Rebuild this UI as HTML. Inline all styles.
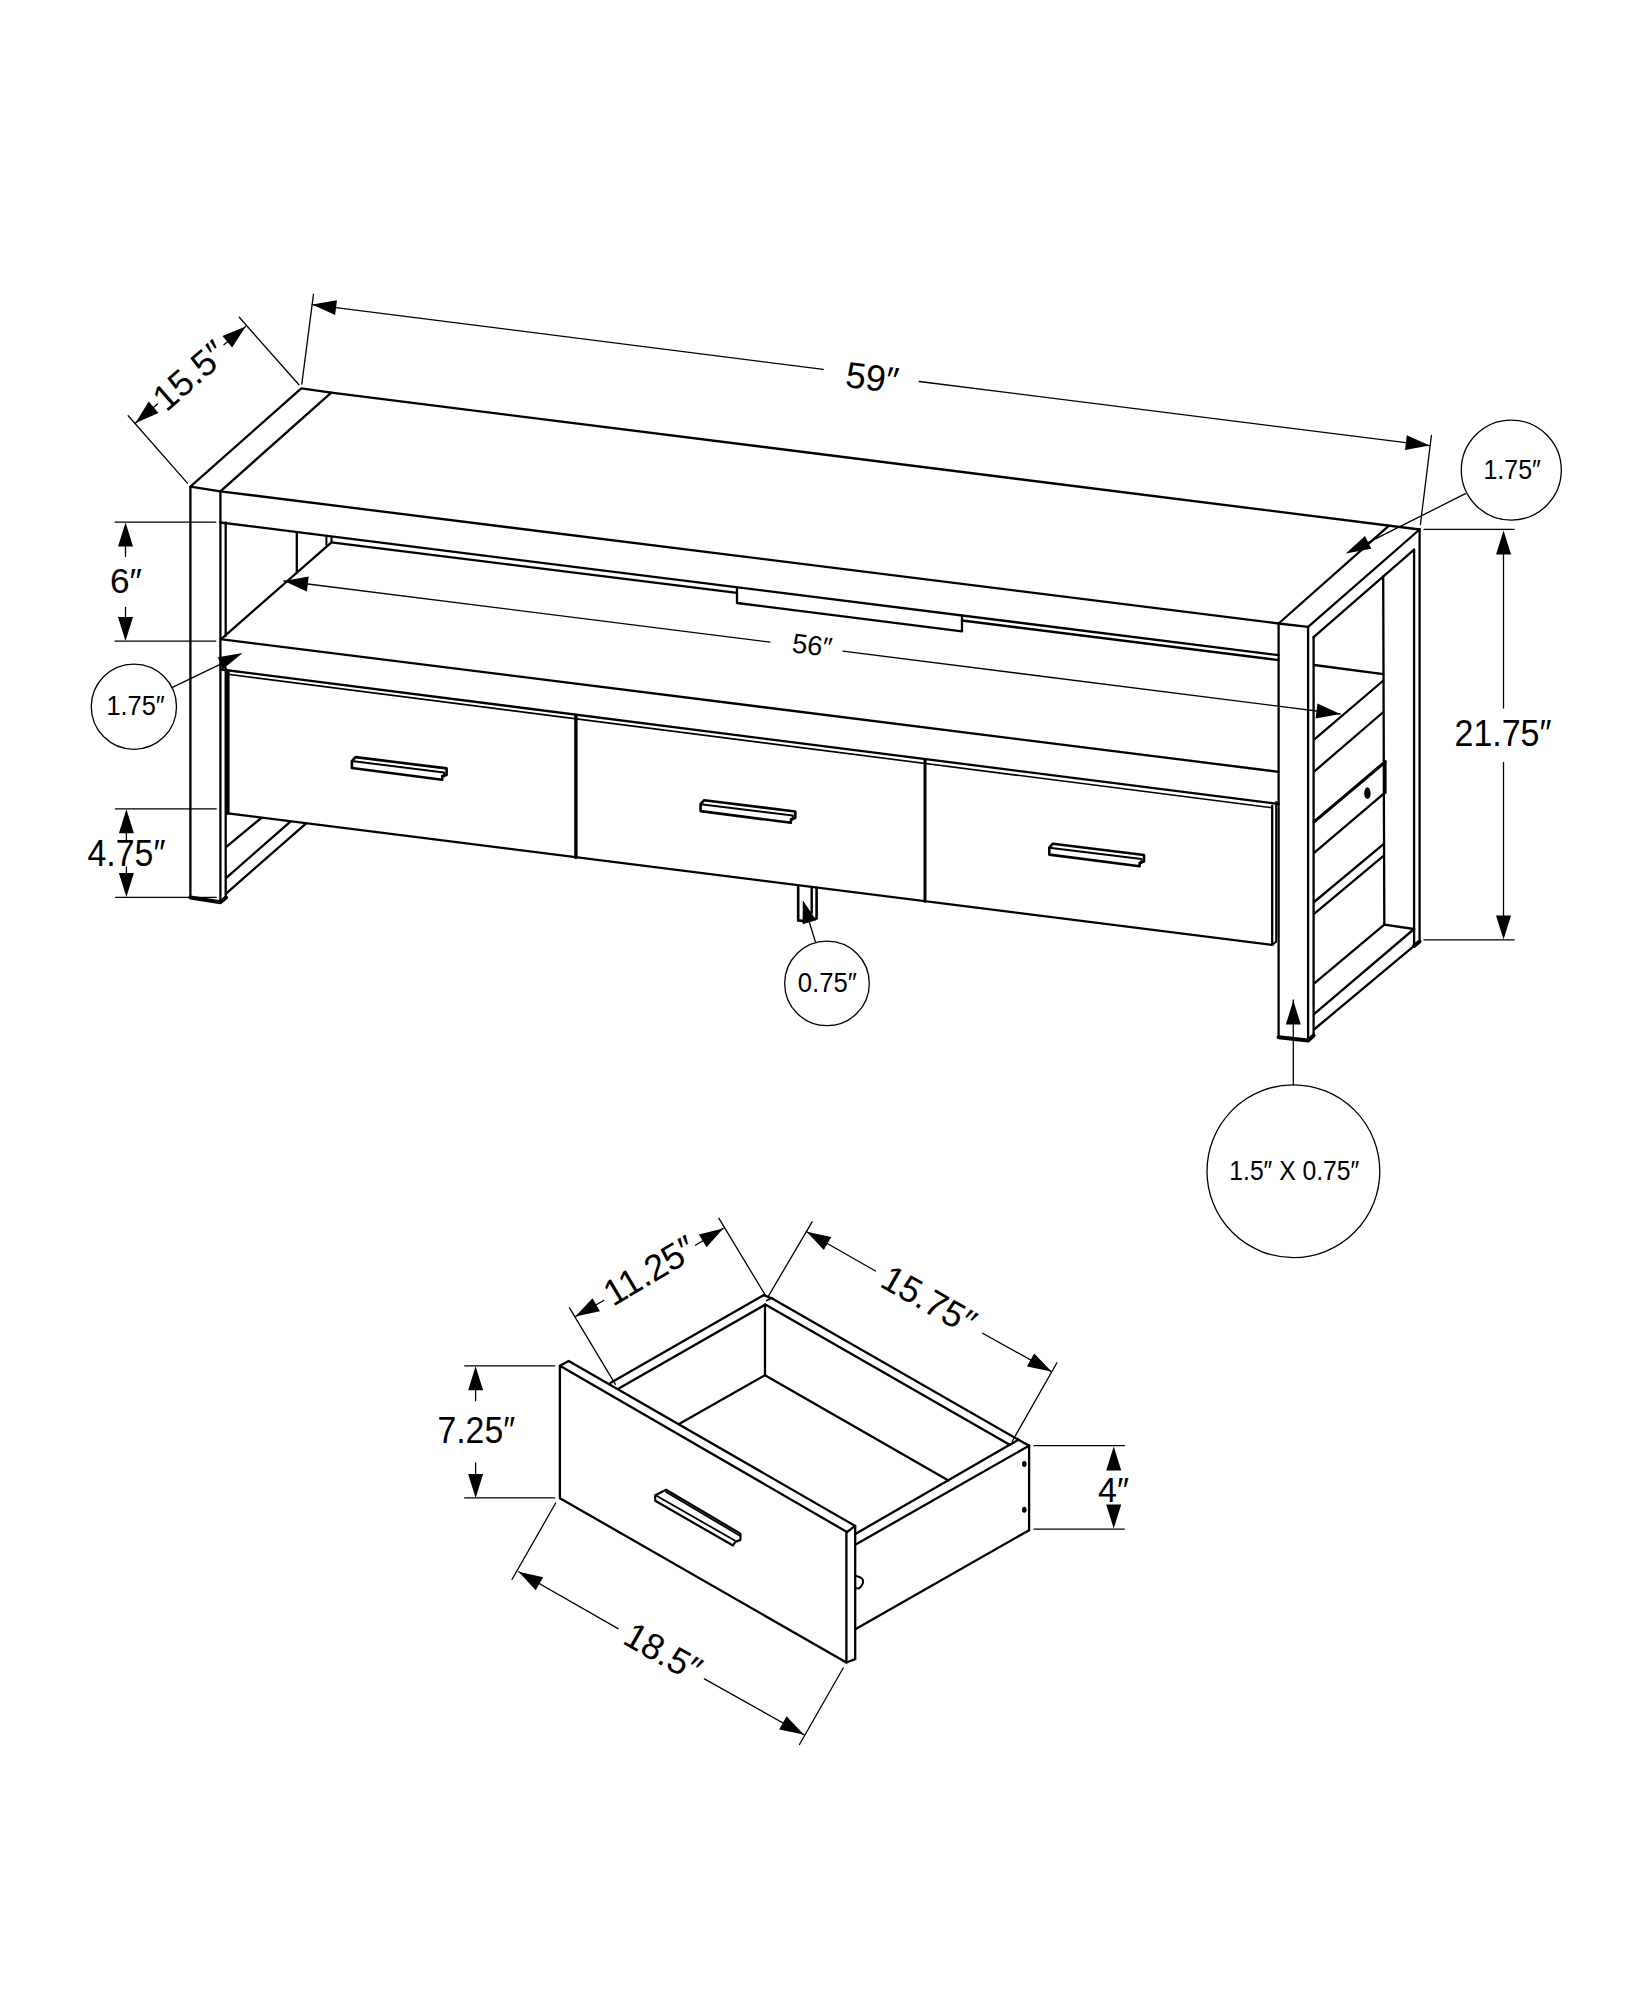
<!DOCTYPE html>
<html><head><meta charset="utf-8"><style>
html,body{margin:0;padding:0;background:#fff;}
svg{display:block;}
text{font-family:"Liberation Sans",sans-serif;fill:#000;stroke:none;}
</style></head><body>
<svg width="1647" height="2000" viewBox="0 0 1647 2000" stroke="#000" stroke-linecap="round" stroke-linejoin="round" fill="none">
<rect x="0" y="0" width="1647" height="2000" fill="#fff" stroke="none"/>
<path d="M190.4,486.7 L301.3,388.4 L331.3,392.6 L220.4,491.3 L190.4,486.7" stroke-width="2.3" fill="none"/>
<line x1="331.3" y1="392.6" x2="1419.6" y2="529.5" stroke-width="2.3"/>
<line x1="220.4" y1="491.3" x2="1278.6" y2="623.5" stroke-width="2.3"/>
<line x1="1389.0" y1="525.7" x2="1278.6" y2="623.5" stroke-width="2.3"/>
<line x1="1419.6" y1="529.5" x2="1308.1" y2="626.8" stroke-width="2.3"/>
<line x1="1278.6" y1="623.5" x2="1308.1" y2="626.8" stroke-width="2.3"/>
<line x1="220.4" y1="522.5" x2="1278.6" y2="655.2" stroke-width="2.3"/>
<line x1="331.4" y1="542.3" x2="737.0" y2="592.8" stroke-width="2.3"/>
<path d="M737.0,587.3 L737.0,603.0 L962.0,631.4 L962.0,615.5" stroke-width="2.3" fill="none"/>
<line x1="962.0" y1="620.5" x2="1278.6" y2="660.1" stroke-width="2.3"/>
<line x1="326.4" y1="536.5" x2="326.4" y2="544.8" stroke-width="2.0"/>
<line x1="331.5" y1="537.2" x2="331.5" y2="541.6" stroke-width="2.0"/>
<line x1="296.8" y1="532.1" x2="296.8" y2="572.7" stroke-width="2.3"/>
<line x1="331.4" y1="542.3" x2="222.0" y2="638.4" stroke-width="2.3"/>
<line x1="222.0" y1="639.3" x2="1278.6" y2="771.8" stroke-width="2.3"/>
<line x1="221.2" y1="669.5" x2="1278.6" y2="804.0" stroke-width="2.3"/>
<line x1="227.9" y1="674.3" x2="1272.0" y2="807.8" stroke-width="1.6"/>
<line x1="227.9" y1="813.3" x2="1272.2" y2="944.9" stroke-width="2.3"/>
<line x1="575.9" y1="715.2" x2="575.9" y2="857.6" stroke-width="3.4"/>
<line x1="925.0" y1="760.0" x2="925.0" y2="901.2" stroke-width="3.0"/>
<line x1="1272.2" y1="806.0" x2="1272.2" y2="944.9" stroke-width="2.3"/>
<line x1="1276.2" y1="802.0" x2="1276.2" y2="941.5" stroke-width="2.0"/>
<line x1="1272.2" y1="944.9" x2="1276.2" y2="941.5" stroke-width="2.0"/>
<line x1="190.4" y1="486.7" x2="190.4" y2="897.6" stroke-width="2.3"/>
<line x1="220.4" y1="491.3" x2="220.4" y2="902.2" stroke-width="2.3"/>
<path d="M190.4,897.6 L220.4,902.2 L226.0,897.5" stroke-width="4" fill="none"/>
<line x1="225.7" y1="522.5" x2="225.7" y2="636.0" stroke-width="2.3"/>
<line x1="225.7" y1="668.0" x2="225.7" y2="897.5" stroke-width="2.3"/>
<line x1="227.9" y1="672.0" x2="227.9" y2="813.3" stroke-width="3.4"/>
<line x1="226.6" y1="846.6" x2="261.2" y2="818.0" stroke-width="2.3"/>
<line x1="226.6" y1="877.6" x2="290.4" y2="821.6" stroke-width="2.3"/>
<line x1="226.6" y1="893.1" x2="305.9" y2="823.6" stroke-width="2.3"/>
<path d="M351.9,761.1 L355.5,757.1 L446.6,768.4 L446.6,774.9 L442.3,776.1 L442.2,779.7 L351.9,768.0 Z" stroke-width="2.6" fill="none"/>
<path d="M351.9,761.1 L444.1,772.5 L444.1,776.4" stroke-width="2.0" fill="none"/>
<path d="M700.6,804.2 L704.2,800.2 L795.3,811.5 L795.3,818.0 L791.0,819.2 L790.9,822.8 L700.6,811.1 Z" stroke-width="2.6" fill="none"/>
<path d="M700.6,804.2 L792.8,815.6 L792.8,819.5" stroke-width="2.0" fill="none"/>
<path d="M1049.3,847.7 L1052.9,843.7 L1144.0,855.0 L1144.0,861.5 L1139.7,862.7 L1139.6,866.3 L1049.3,854.6 Z" stroke-width="2.6" fill="none"/>
<path d="M1049.3,847.7 L1141.5,859.1 L1141.5,863.0" stroke-width="2.0" fill="none"/>
<path d="M798.2,885.6 L798.2,920.4 L805.5,921.2 L816.6,918.4 L816.6,888.0" stroke-width="2.6" fill="none"/>
<line x1="811.7" y1="887.0" x2="811.7" y2="913.0" stroke-width="2.4"/>
<line x1="1278.6" y1="623.5" x2="1278.6" y2="1037.2" stroke-width="2.3"/>
<line x1="1308.1" y1="626.8" x2="1308.1" y2="1040.4" stroke-width="2.3"/>
<line x1="1313.6" y1="637.2" x2="1313.6" y2="1035.5" stroke-width="2.3"/>
<path d="M1278.6,1037.2 L1308.1,1040.4 L1313.6,1035.5" stroke-width="4" fill="none"/>
<line x1="1313.6" y1="637.2" x2="1414.1" y2="549.7" stroke-width="2.3"/>
<line x1="1414.1" y1="549.7" x2="1414.1" y2="945.9" stroke-width="2.3"/>
<line x1="1419.6" y1="529.5" x2="1419.6" y2="941.5" stroke-width="2.3"/>
<path d="M1414.1,945.9 L1419.6,941.5" stroke-width="4" fill="none"/>
<line x1="1383.2" y1="576.5" x2="1384.3" y2="924.6" stroke-width="2.3"/>
<line x1="1314.6" y1="983.1" x2="1384.3" y2="924.6" stroke-width="2.3"/>
<line x1="1384.3" y1="924.6" x2="1414.1" y2="929.0" stroke-width="2.3"/>
<line x1="1314.6" y1="1013.7" x2="1414.1" y2="929.0" stroke-width="2.3"/>
<line x1="1314.6" y1="1029.0" x2="1414.1" y2="945.9" stroke-width="2.3"/>
<line x1="1314.1" y1="665.0" x2="1383.4" y2="674.2" stroke-width="2.3"/>
<line x1="1314.1" y1="739.7" x2="1383.4" y2="680.5" stroke-width="2.3"/>
<line x1="1314.1" y1="771.6" x2="1383.4" y2="712.0" stroke-width="2.3"/>
<line x1="1314.1" y1="821.9" x2="1385.0" y2="762.0" stroke-width="3.2"/>
<line x1="1385.5" y1="761.0" x2="1385.5" y2="793.0" stroke-width="2.2"/>
<line x1="1314.1" y1="852.9" x2="1383.8" y2="793.7" stroke-width="2.3"/>
<line x1="1314.1" y1="902.0" x2="1383.8" y2="843.8" stroke-width="2.3"/>
<line x1="1314.1" y1="913.9" x2="1383.8" y2="855.6" stroke-width="2.3"/>
<ellipse cx="1367.4" cy="793.2" rx="3.2" ry="5.9" fill="#000" stroke="none"/>
<line x1="313.5" y1="294.2" x2="301.8" y2="384.2" stroke-width="1.3"/>
<line x1="1431.4" y1="435.4" x2="1420.4" y2="524.5" stroke-width="1.3"/>
<line x1="312.2" y1="304.6" x2="823.2" y2="369.4" stroke-width="1.3"/>
<line x1="919.2" y1="381.5" x2="1429.7" y2="445.6" stroke-width="1.3"/>
<path d="M312.2,304.6 L337.0,300.2 L335.1,315.1 Z" fill="#000" stroke="none"/>
<path d="M1429.7,445.6 L1405.0,450.1 L1406.8,435.2 Z" fill="#000" stroke="none"/>
<g transform="translate(872.3,377.5) rotate(7.20)"><text x="0" y="12.6" font-size="36.5" text-anchor="middle" textLength="53" lengthAdjust="spacingAndGlyphs">59&#8243;</text></g>
<line x1="128.2" y1="415.7" x2="187.4" y2="483.1" stroke-width="1.3"/>
<line x1="239.3" y1="317.3" x2="298.9" y2="384.7" stroke-width="1.3"/>
<line x1="135.5" y1="423.0" x2="157.4" y2="403.9" stroke-width="1.3"/>
<line x1="223.9" y1="344.7" x2="245.7" y2="326.4" stroke-width="1.3"/>
<path d="M135.5,423.0 L148.7,401.6 L158.5,412.9 Z" fill="#000" stroke="none"/>
<path d="M245.7,326.4 L232.1,347.6 L222.5,336.1 Z" fill="#000" stroke="none"/>
<g transform="translate(189.5,375.5) rotate(-41.20)"><text x="0" y="12.6" font-size="36.5" text-anchor="middle" textLength="84" lengthAdjust="spacingAndGlyphs">15.5&#8243;</text></g>
<line x1="115.0" y1="522.2" x2="215.7" y2="522.2" stroke-width="1.3"/>
<line x1="115.0" y1="641.2" x2="215.7" y2="641.2" stroke-width="1.3"/>
<line x1="125.5" y1="546.0" x2="125.5" y2="556.5" stroke-width="1.3"/>
<line x1="125.5" y1="607.5" x2="125.5" y2="618.0" stroke-width="1.3"/>
<path d="M125.5,522.5 L133.0,546.5 L118.0,546.5 Z" fill="#000" stroke="none"/>
<path d="M125.5,641.0 L118.0,617.0 L133.0,617.0 Z" fill="#000" stroke="none"/>
<g transform="translate(126.0,580.6) rotate(0.00)"><text x="0" y="12.2" font-size="35.5" text-anchor="middle" textLength="32" lengthAdjust="spacingAndGlyphs">6&#8243;</text></g>
<line x1="115.5" y1="808.9" x2="216.2" y2="808.9" stroke-width="1.3"/>
<line x1="115.5" y1="897.3" x2="216.2" y2="897.3" stroke-width="1.3"/>
<line x1="126.4" y1="832.0" x2="126.4" y2="840.0" stroke-width="1.3"/>
<line x1="126.4" y1="867.0" x2="126.4" y2="874.0" stroke-width="1.3"/>
<path d="M126.4,809.2 L133.9,833.2 L118.9,833.2 Z" fill="#000" stroke="none"/>
<path d="M126.4,897.0 L118.9,873.0 L133.9,873.0 Z" fill="#000" stroke="none"/>
<g transform="translate(126.4,853.5) rotate(0.00)"><text x="0" y="12.7" font-size="37" text-anchor="middle" textLength="78" lengthAdjust="spacingAndGlyphs">4.75&#8243;</text></g>
<line x1="1424.0" y1="529.4" x2="1513.9" y2="529.4" stroke-width="1.3"/>
<line x1="1424.0" y1="939.9" x2="1514.0" y2="939.9" stroke-width="1.3"/>
<line x1="1503.5" y1="550.0" x2="1503.5" y2="707.9" stroke-width="1.3"/>
<line x1="1503.5" y1="762.5" x2="1503.5" y2="918.0" stroke-width="1.3"/>
<path d="M1503.5,530.5 L1511.0,554.5 L1496.0,554.5 Z" fill="#000" stroke="none"/>
<path d="M1503.5,939.4 L1496.0,915.4 L1511.0,915.4 Z" fill="#000" stroke="none"/>
<g transform="translate(1503.0,733.7) rotate(0.00)"><text x="0" y="12.6" font-size="36.5" text-anchor="middle" textLength="97" lengthAdjust="spacingAndGlyphs">21.75&#8243;</text></g>
<line x1="284.0" y1="581.0" x2="770.0" y2="642.2" stroke-width="1.3"/>
<line x1="843.1" y1="651.1" x2="1340.3" y2="714.0" stroke-width="1.3"/>
<path d="M284.0,581.0 L308.7,576.5 L306.9,591.4 Z" fill="#000" stroke="none"/>
<path d="M1340.3,714.0 L1315.6,718.5 L1317.4,703.6 Z" fill="#000" stroke="none"/>
<g transform="translate(812.3,645.3) rotate(7.20)"><text x="0" y="9.5" font-size="27.5" text-anchor="middle" textLength="40" lengthAdjust="spacingAndGlyphs">56&#8243;</text></g>
<circle cx="1511.3" cy="470.1" r="50" stroke-width="1.3" fill="none"/>
<line x1="1465.4" y1="493.7" x2="1366.0" y2="543.6" stroke-width="1.3"/>
<path d="M1345.8,553.6 L1371.3,548.7 L1365.0,536.1 Z" fill="#000" stroke="none"/>
<g transform="translate(1512.2,469.4) rotate(0.00)"><text x="0" y="9.4" font-size="27.2" text-anchor="middle" textLength="57.5" lengthAdjust="spacingAndGlyphs">1.75&#8243;</text></g>
<circle cx="133.9" cy="706.7" r="42.6" stroke-width="1.3" fill="none"/>
<line x1="172.4" y1="687.4" x2="220.1" y2="664.3" stroke-width="1.3"/>
<path d="M218.0,657.3 L242.6,653.1 L222.5,669.5 Z" fill="#000" stroke="none"/>
<g transform="translate(135.6,705.8) rotate(0.00)"><text x="0" y="9.4" font-size="27.2" text-anchor="middle" textLength="58.3" lengthAdjust="spacingAndGlyphs">1.75&#8243;</text></g>
<circle cx="827" cy="983.4" r="42.3" stroke-width="1.3" fill="none"/>
<line x1="815.3" y1="941.5" x2="809.4" y2="922.3" stroke-width="1.3"/>
<path d="M802.8,900.2 L802.6,924.3 L816.2,920.3 Z" fill="#000" stroke="none"/>
<g transform="translate(827.3,982.5) rotate(0.00)"><text x="0" y="9.4" font-size="27.2" text-anchor="middle" textLength="59" lengthAdjust="spacingAndGlyphs">0.75&#8243;</text></g>
<circle cx="1293.4" cy="1171.2" r="86.4" stroke-width="1.3" fill="none"/>
<line x1="1293.3" y1="1000.0" x2="1293.3" y2="1084.8" stroke-width="1.3"/>
<path d="M1293.3,1000.6 L1300.8,1024.6 L1285.8,1024.6 Z" fill="#000" stroke="none"/>
<g transform="translate(1294.3,1170.3) rotate(0.00)"><text x="0" y="9.6" font-size="28" text-anchor="middle" textLength="130" lengthAdjust="spacingAndGlyphs">1.5&#8243; X 0.75&#8243;</text></g>
<path d="M559.9,1365.8 L568.7,1361.0 L855.2,1525.9 L855.2,1659.2 L846.4,1662.5 L559.9,1498.2 L559.9,1365.8" stroke-width="2.3" fill="none"/>
<line x1="559.9" y1="1365.8" x2="847.0" y2="1532.0" stroke-width="2.3"/>
<line x1="847.0" y1="1532.0" x2="855.2" y2="1525.9" stroke-width="2.3"/>
<line x1="846.4" y1="1532.0" x2="846.4" y2="1662.5" stroke-width="2.3"/>
<line x1="610.3" y1="1382.9" x2="763.9" y2="1295.1" stroke-width="2.3"/>
<line x1="618.3" y1="1388.7" x2="765.3" y2="1304.6" stroke-width="2.3"/>
<line x1="763.9" y1="1295.1" x2="772.6" y2="1298.7" stroke-width="2.3"/>
<line x1="766.9" y1="1300.5" x2="772.2" y2="1297.8" stroke-width="1.8"/>
<line x1="772.6" y1="1298.7" x2="1018.5" y2="1439.8" stroke-width="2.3"/>
<line x1="765.3" y1="1304.6" x2="1009.7" y2="1444.7" stroke-width="2.3"/>
<line x1="1018.5" y1="1439.8" x2="1029.1" y2="1445.7" stroke-width="2.3"/>
<line x1="1009.7" y1="1445.0" x2="1018.3" y2="1439.8" stroke-width="2.3"/>
<line x1="765.0" y1="1304.6" x2="765.0" y2="1375.2" stroke-width="2.3"/>
<line x1="765.0" y1="1375.2" x2="679.5" y2="1423.7" stroke-width="2.3"/>
<line x1="765.0" y1="1375.2" x2="948.5" y2="1480.6" stroke-width="2.3"/>
<line x1="1029.1" y1="1445.7" x2="855.3" y2="1544.7" stroke-width="2.3"/>
<line x1="1009.7" y1="1444.7" x2="855.3" y2="1534.0" stroke-width="2.3"/>
<line x1="1029.1" y1="1445.7" x2="1029.1" y2="1530.2" stroke-width="2.3"/>
<line x1="1029.1" y1="1530.2" x2="855.3" y2="1629.3" stroke-width="2.3"/>
<ellipse cx="1024.3" cy="1464.1" rx="2.3" ry="3" fill="#000" stroke="none"/>
<ellipse cx="1024.3" cy="1509.8" rx="2.3" ry="3" fill="#000" stroke="none"/>
<path d="M856,1576 Q866,1578 862,1585 Q859,1590 856,1588" stroke-width="2" fill="none"/>
<path d="M655.2,1495.3 L666.1,1489.8 L740.4,1533.6 L740.4,1540.1 L735.5,1541.5 L733.0,1545.5 L655.2,1500.8 L655.2,1495.3" stroke-width="2.2" fill="none"/>
<line x1="656.5" y1="1495.8" x2="737.0" y2="1541.8" stroke-width="1.8"/>
<line x1="666.1" y1="1492.0" x2="740.4" y2="1536.0" stroke-width="1.8"/>
<line x1="464.7" y1="1365.8" x2="554.6" y2="1365.8" stroke-width="1.3"/>
<line x1="464.7" y1="1497.9" x2="554.6" y2="1497.9" stroke-width="1.3"/>
<line x1="475.6" y1="1390.0" x2="475.6" y2="1400.7" stroke-width="1.3"/>
<line x1="475.6" y1="1462.9" x2="475.6" y2="1474.1" stroke-width="1.3"/>
<path d="M475.6,1366.2 L483.1,1390.2 L468.1,1390.2 Z" fill="#000" stroke="none"/>
<path d="M475.6,1497.9 L468.1,1473.9 L483.1,1473.9 Z" fill="#000" stroke="none"/>
<g transform="translate(476.3,1430.8) rotate(0.00)"><text x="0" y="12.6" font-size="36.7" text-anchor="middle" textLength="77.7" lengthAdjust="spacingAndGlyphs">7.25&#8243;</text></g>
<line x1="1034.0" y1="1445.7" x2="1124.3" y2="1445.7" stroke-width="1.3"/>
<line x1="1034.0" y1="1529.2" x2="1124.3" y2="1529.2" stroke-width="1.3"/>
<path d="M1113.7,1446.5 L1121.2,1470.5 L1106.2,1470.5 Z" fill="#000" stroke="none"/>
<path d="M1113.7,1528.5 L1106.2,1504.5 L1121.2,1504.5 Z" fill="#000" stroke="none"/>
<g transform="translate(1113.6,1489.8) rotate(0.00)"><text x="0" y="12.0" font-size="35" text-anchor="middle" textLength="31" lengthAdjust="spacingAndGlyphs">4&#8243;</text></g>
<line x1="569.5" y1="1307.8" x2="615.4" y2="1384.3" stroke-width="1.3"/>
<line x1="718.8" y1="1218.2" x2="765.5" y2="1295.4" stroke-width="1.3"/>
<line x1="575.3" y1="1316.6" x2="603.7" y2="1300.5" stroke-width="1.3"/>
<line x1="695.5" y1="1245.2" x2="723.2" y2="1228.4" stroke-width="1.3"/>
<path d="M575.3,1316.6 L592.5,1298.2 L599.9,1311.3 Z" fill="#000" stroke="none"/>
<path d="M723.2,1228.4 L706.6,1247.3 L698.8,1234.4 Z" fill="#000" stroke="none"/>
<g transform="translate(649.5,1270.5) rotate(-30.80)"><text x="0" y="12.6" font-size="36.5" text-anchor="middle" textLength="100" lengthAdjust="spacingAndGlyphs">11.25&#8243;</text></g>
<line x1="812.1" y1="1221.9" x2="768.4" y2="1296.2" stroke-width="1.3"/>
<line x1="1056.9" y1="1362.8" x2="1012.1" y2="1441.5" stroke-width="1.3"/>
<line x1="806.7" y1="1231.7" x2="875.5" y2="1271.0" stroke-width="1.3"/>
<line x1="982.6" y1="1333.3" x2="1051.5" y2="1371.6" stroke-width="1.3"/>
<path d="M806.7,1231.7 L831.3,1237.1 L823.8,1250.1 Z" fill="#000" stroke="none"/>
<path d="M1051.5,1371.6 L1026.9,1366.5 L1034.2,1353.4 Z" fill="#000" stroke="none"/>
<g transform="translate(929.0,1300.0) rotate(29.70)"><text x="0" y="12.6" font-size="36.5" text-anchor="middle" textLength="102" lengthAdjust="spacingAndGlyphs">15.75&#8243;</text></g>
<line x1="555.7" y1="1503.0" x2="512.0" y2="1579.5" stroke-width="1.3"/>
<line x1="843.2" y1="1668.0" x2="799.5" y2="1744.5" stroke-width="1.3"/>
<line x1="518.6" y1="1571.8" x2="618.0" y2="1628.6" stroke-width="1.3"/>
<line x1="704.4" y1="1678.9" x2="803.8" y2="1734.6" stroke-width="1.3"/>
<path d="M518.6,1571.8 L543.2,1577.2 L535.7,1590.2 Z" fill="#000" stroke="none"/>
<path d="M803.8,1734.6 L779.2,1729.4 L786.5,1716.3 Z" fill="#000" stroke="none"/>
<g transform="translate(663.0,1652.0) rotate(29.70)"><text x="0" y="12.6" font-size="36.5" text-anchor="middle" textLength="82" lengthAdjust="spacingAndGlyphs">18.5&#8243;</text></g>
</svg></body></html>
